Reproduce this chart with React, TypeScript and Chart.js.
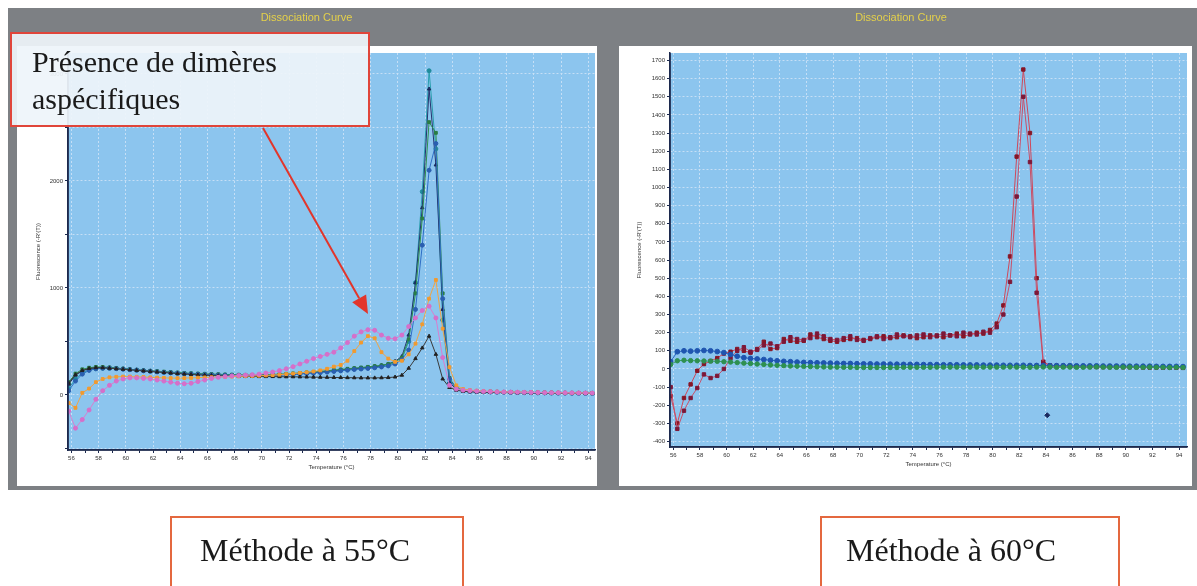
import React, { useEffect, useRef } from "react";
import { Chart, registerables } from "chart.js";

Chart.register(...registerables);

// ---------- DATA ----------
const temps = [
  55.8, 56.3, 56.8, 57.3, 57.8, 58.3, 58.8, 59.3, 59.8, 60.3,
  60.8, 61.3, 61.8, 62.3, 62.8, 63.3, 63.8, 64.3, 64.8, 65.3,
  65.8, 66.3, 66.8, 67.3, 67.8, 68.3, 68.8, 69.3, 69.8, 70.3,
  70.8, 71.3, 71.8, 72.3, 72.8, 73.3, 73.8, 74.3, 74.8, 75.3,
  75.8, 76.3, 76.8, 77.3, 77.8, 78.3, 78.8, 79.3, 79.8, 80.3,
  80.8, 81.3, 81.8, 82.3, 82.8, 83.3, 83.8, 84.3, 84.8, 85.3,
  85.8, 86.3, 86.8, 87.3, 87.8, 88.3, 88.8, 89.3, 89.8, 90.3,
  90.8, 91.3, 91.8, 92.3, 92.8, 93.3, 93.8, 94.3,
];

// Left chart (Méthode à 55°C)
const left55Teal = [
  60, 150, 205, 235, 245, 250, 250, 248, 243, 238,
  233, 228, 222, 218, 212, 208, 204, 200, 198, 195,
  193, 190, 188, 186, 185, 184, 183, 182, 182, 183,
  185, 188, 191, 195, 199, 204, 209, 214, 220, 226,
  232, 238, 244, 250, 256, 262, 270, 282, 300, 330,
  500, 1050, 1900, 3030, 2300, 700, 110, 60, 45, 38,
  34, 31, 29, 27, 26, 25, 24, 23, 22, 21,
  20, 19, 18, 18, 17, 16, 16, 15,
];
const left55Navy = [
  100, 185, 225, 245, 255, 258, 255, 250, 245, 240,
  235, 230, 225, 220, 215, 210, 206, 202, 198, 195,
  192, 190, 188, 186, 184, 183, 182, 182, 183, 184,
  186, 189, 192, 196, 200, 205, 210, 216, 222, 228,
  234, 240, 246, 252, 258, 265, 275, 290, 315, 360,
  560, 1050, 1750, 2860, 2150, 800, 120, 55, 40, 32,
  30, 28, 26, 25, 24, 23, 22, 22, 21, 20,
  20, 19, 19, 18, 18, 17, 17, 16,
];
const left55Green = [
  120, 200, 240, 255, 262, 262, 258, 252, 246, 240,
  235, 230, 226, 222, 218, 214, 210, 206, 203, 200,
  198, 196, 194, 192, 190, 189, 188, 188, 189, 190,
  192, 195, 198, 202, 206, 211, 216, 221, 227, 233,
  239, 245, 251, 257, 263, 270, 278, 290, 310, 350,
  520, 950, 1650, 2550, 2450, 950, 160, 65, 48, 40,
  36, 33, 31, 29, 28, 27, 26, 25, 24, 23,
  22, 21, 20, 20, 19, 18, 18, 17,
];
const left55Blue = [
  40, 130, 195, 230, 245, 250, 250, 246, 241, 236,
  231, 226, 221, 216, 211, 207, 203, 199, 196, 193,
  190, 188, 186, 184, 183, 182, 181, 181, 182, 183,
  184, 186, 189, 192, 196, 200, 204, 209, 214, 220,
  226, 232, 238, 243, 248, 254, 262, 272, 290, 330,
  420, 800, 1400, 2100, 2350, 900, 150, 55, 42, 35,
  32, 30, 28, 26, 25, 24, 23, 22, 21, 20,
  20, 19, 18, 18, 17, 17, 16, 16,
];
const left55Black = [
  110, 190, 230, 248, 255, 255, 250, 245, 240, 235,
  230, 225, 220, 215, 210, 205, 200, 196, 192, 188,
  185, 182, 180, 178, 176, 175, 174, 173, 172, 172,
  172, 171, 170, 170, 169, 168, 167, 166, 165, 164,
  163, 162, 161, 160, 160, 160, 161, 163, 168, 185,
  250, 340, 440, 550, 380, 150, 70, 45, 35, 30,
  28, 26, 25, 24, 23, 22, 21, 21, 20, 20,
  19, 19, 18, 18, 17, 17, 16, 16,
];
const left55Pink = [
  -150, -310, -230, -140, -40, 40, 90, 130, 150, 160,
  160, 155, 150, 140, 130, 120, 110, 105, 110, 125,
  140, 155, 165, 172, 178, 182, 186, 190, 195, 205,
  215, 228, 245, 265, 290, 315, 340, 360, 380, 400,
  440, 490, 550, 590, 610, 605, 560, 530, 525, 560,
  640, 720, 790, 830, 720, 350, 90, 55, 45, 40,
  36, 33, 31, 29, 28, 27, 26, 25, 24, 23,
  22, 22, 21, 20, 20, 19, 19, 18,
];
const left55Orange = [
  -75, -120, 20, 60, 120, 150, 165, 170, 172, 172,
  170, 168, 165, 162, 160, 158, 157, 158, 160, 162,
  164, 166, 168, 170, 172, 174, 176, 178, 180, 183,
  186, 190, 195, 200, 206, 212, 220, 230, 245, 265,
  280, 320, 410, 490, 550, 530, 400, 340, 310, 320,
  380, 480, 660, 900, 1075, 620, 260, 90, 55, 45,
  40, 36, 33, 31, 29, 28, 27, 26, 25, 24,
  23, 22, 22, 21, 20, 20, 19, 19,
];

// Right chart (Méthode à 60°C)
const right60Red1 = [
  -150, -300, -160, -85, -10, 27, 44, 60, 85, 95,
  110, 100, 90, 110, 150, 110, 115, 165, 155, 150,
  155, 190, 175, 165, 155, 150, 160, 165, 170, 160,
  165, 175, 180, 170, 175, 185, 180, 170, 175, 185,
  180, 175, 185, 195, 180, 190, 200, 195, 215, 250,
  350, 620, 1170, 1650, 1300, 500, 40, 20, 18, 17,
  16, 15, 15, 14, 14, 13, 13, 12, 12, 12,
  11, 11, 10, 10, 10, 9, 9, 9,
];
const right60Red2 = [
  -100, -330, -230, -160, -105, -30, -50, -38, 0, 60,
  100, 120, 95, 105, 130, 140, 125, 150, 175, 165,
  160, 170, 195, 180, 165, 160, 170, 180, 160, 155,
  170, 180, 165, 175, 190, 180, 175, 185, 190, 175,
  185, 195, 185, 180, 200, 195, 190, 205, 200, 230,
  300, 480, 950, 1500, 1140, 420, 30, 15, 14, 13,
  13, 12, 12, 11, 11, 10, 10, 10, 9, 9,
  9, 8, 8, 8, 7, 7, 7, 6,
];
const right60Blue = [
  40, 95, 100, 98, 100, 102, 100, 96, 90, 80,
  70, 62, 58, 55, 52, 48, 45, 42, 40, 38,
  36, 35, 34, 33, 32, 31, 30, 30, 29, 28,
  28, 27, 27, 26, 26, 25, 25, 25, 24, 24,
  24, 23, 23, 23, 22, 22, 22, 21, 21, 21,
  20, 20, 20, 20, 19, 19, 19, 18, 18, 18,
  18, 17, 17, 17, 17, 16, 16, 16, 16, 15,
  15, 15, 15, 14, 14, 14, 14, 13,
];
const right60Green = [
  25, 45, 48, 46, 45, 44, 43, 42, 40, 38,
  35, 32, 30, 27, 25, 22, 20, 18, 16, 15,
  14, 13, 12, 11, 10, 10, 9, 9, 8, 8,
  8, 8, 8, 8, 8, 9, 9, 9, 9, 9,
  10, 10, 10, 10, 10, 10, 10, 10, 10, 10,
  10, 11, 10, 10, 9, 10, 11, 10, 9, 10,
  10, 9, 9, 10, 11, 10, 9, 9, 10, 10,
  9, 9, 10, 9, 9, 8, 9, 8,
];
const strayTemp = [84.1];
const strayValue = [-255];

const leftYTicks = [-500, 0, 500, 1000, 1500, 2000, 2500, 3000];
const leftYLabels = [0, 1000, 2000, 3000];
const rightYTicks = [
  -400, -300, -200, -100, 0, 100, 200, 300, 400, 500, 600, 700, 800, 900, 1000,
  1100, 1200, 1300, 1400, 1500, 1600, 1700,
];
const chartTitle = "Dissociation Curve";
const yTitle = "Fluorescence (-R'(T))";
const xTitle = "Temperature (°C)";

// ---------- HELPERS ----------
const toXY = (xs: number[], ys: number[]) => xs.map((x, i) => ({ x, y: ys[i] }));

const GRID = "rgba(200,224,245,0.95)";
const SANS = '"Liberation Sans", Arial, sans-serif';

function panelPlugin(inner: { x: number; y: number; w: number; h: number }) {
  return {
    id: "panelBg",
    beforeDraw(chart: any) {
      const { ctx, width, height, chartArea } = chart;
      ctx.save();
      ctx.fillStyle = "#7d8084";
      ctx.fillRect(0, 0, width, height);
      ctx.fillStyle = "#ffffff";
      ctx.fillRect(inner.x, inner.y, inner.w, inner.h);
      ctx.fillStyle = "#8cc5ee";
      ctx.fillRect(
        chartArea.left,
        chartArea.top,
        chartArea.right - chartArea.left,
        chartArea.bottom - chartArea.top
      );
      ctx.font = "11px " + SANS;
      ctx.fillStyle = "#e4d04a";
      ctx.textAlign = "center";
      ctx.textBaseline = "middle";
      ctx.fillText(chartTitle, width / 2, 10);
      ctx.restore();
    },
  };
}

function ds(label: string, values: number[], line: string, point: string, style: string, r = 2) {
  return {
    label,
    data: toXY(temps, values),
    borderColor: line,
    backgroundColor: point,
    pointBackgroundColor: point,
    pointBorderColor: point,
    pointStyle: style,
    pointRadius: r,
    borderWidth: 1,
    tension: 0,
  };
}

function baseOptions(opts: {
  padLeft: number;
  padRight: number;
  padTop: number;
  padBottom: number;
  yWidth: number;
  xHeight: number;
  xMin: number;
  xMax: number;
  yMin: number;
  yMax: number;
  yTicks: number[];
  yLabel: (v: number) => string;
}) {
  return {
    responsive: false,
    animation: false,
    devicePixelRatio: 1,
    layout: {
      padding: { left: opts.padLeft, right: opts.padRight, top: opts.padTop, bottom: opts.padBottom },
    },
    plugins: { legend: { display: false }, tooltip: { enabled: false }, title: { display: false } },
    scales: {
      x: {
        type: "linear",
        min: opts.xMin,
        max: opts.xMax,
        afterFit: (s: any) => {
          s.height = opts.xHeight;
        },
        border: { color: "#1c2a4e", width: 1.5, dash: [2, 2] },
        grid: {
          color: (c: any) => (c.tick && Math.round(c.tick.value) % 2 === 0 ? GRID : "rgba(0,0,0,0)"),
          tickColor: "#1c2a4e",
          tickLength: 3,
          lineWidth: 1,
        },
        ticks: {
          stepSize: 1,
          autoSkip: false,
          maxRotation: 0,
          includeBounds: false,
          padding: 2,
          color: "#333",
          font: { size: 6, family: SANS },
          callback: (v: any) => (Math.round(Number(v)) % 2 === 0 ? String(Math.round(Number(v))) : ""),
        },
        title: {
          display: true,
          text: xTitle,
          color: "#333",
          font: { size: 6, family: SANS },
          padding: { top: 0, bottom: 0 },
        },
      },
      y: {
        type: "linear",
        min: opts.yMin,
        max: opts.yMax,
        afterBuildTicks: (s: any) => {
          s.ticks = opts.yTicks.map((value) => ({ value }));
        },
        afterFit: (s: any) => {
          s.width = opts.yWidth;
        },
        border: { color: "#1c2a4e", width: 1.5, dash: [2, 2] },
        grid: { color: GRID, tickColor: "#1c2a4e", tickLength: 3, lineWidth: 1 },
        ticks: {
          autoSkip: false,
          padding: 2,
          color: "#333",
          font: { size: 6, family: SANS },
          callback: (v: any) => opts.yLabel(Math.round(Number(v))),
        },
        title: {
          display: true,
          text: yTitle,
          color: "#333",
          font: { size: 6, family: SANS },
          padding: { top: 2, bottom: 2 },
        },
      },
    },
  };
}

// draws the solid axis lines (grid lines are dotted)
const axisLinePlugin = {
  id: "axisLines",
  afterDraw(chart: any) {
    const { ctx, chartArea } = chart;
    ctx.save();
    ctx.strokeStyle = "#1c2a4e";
    ctx.lineWidth = 1.5;
    ctx.beginPath();
    ctx.moveTo(chartArea.left, chartArea.top);
    ctx.lineTo(chartArea.left, chartArea.bottom);
    ctx.lineTo(chartArea.right, chartArea.bottom);
    ctx.stroke();
    ctx.restore();
  },
};

function LeftChart() {
  const ref = useRef<HTMLCanvasElement>(null);
  useEffect(() => {
    if (!ref.current) return;
    const chart = new Chart(ref.current, {
      type: "line",
      data: {
        datasets: [
          ds("pink", left55Pink, "#d77fd0", "#d66fca", "circle"),
          ds("orange", left55Orange, "#f0a445", "#f29a2e", "rect"),
          ds("black", left55Black, "#3a3a3a", "#222222", "triangle"),
          ds("blue", left55Blue, "#2f6fc6", "#2a5fb0", "circle"),
          ds("green", left55Green, "#2f9050", "#2a7d45", "rect"),
          ds("navy", left55Navy, "#25356f", "#1b2a5f", "triangle"),
          ds("teal", left55Teal, "#2a9fae", "#1f8c9c", "circle"),
        ] as any,
      },
      options: baseOptions({
        padLeft: 25,
        padRight: 10,
        padTop: 45,
        padBottom: 19,
        yWidth: 35,
        xHeight: 21,
        xMin: 55.75,
        xMax: 94.5,
        yMin: -514,
        yMax: 3196,
        yTicks: leftYTicks,
        yLabel: (v) => (leftYLabels.includes(v) ? String(v) : ""),
      }) as any,
      plugins: [panelPlugin({ x: 9, y: 38, w: 580, h: 440 }), axisLinePlugin],
    });
    return () => chart.destroy();
  }, []);
  return (
    <canvas
      ref={ref}
      width={597}
      height={482}
      style={{ position: "absolute", left: 8, top: 8, width: 597, height: 482 }}
    />
  );
}

function RightChart() {
  const ref = useRef<HTMLCanvasElement>(null);
  useEffect(() => {
    if (!ref.current) return;
    const chart = new Chart(ref.current, {
      type: "line",
      data: {
        datasets: [
          ds("green", right60Green, "#3aa066", "#2e9050", "circle", 2.2),
          ds("blue", right60Blue, "#2a66c4", "#1f55b0", "circle", 2.4),
          ds("red2", right60Red2, "#c9506a", "#7d1838", "rect", 2.4),
          ds("red1", right60Red1, "#d0485a", "#861626", "rect", 2.4),
          {
            label: "stray",
            data: toXY(strayTemp, strayValue),
            showLine: false,
            pointStyle: "rectRot",
            pointRadius: 2.5,
            pointBackgroundColor: "#1b2a5f",
            pointBorderColor: "#1b2a5f",
          },
        ] as any,
      },
      options: baseOptions({
        padLeft: 29,
        padRight: 10,
        padTop: 45,
        padBottom: 22,
        yWidth: 36,
        xHeight: 21,
        xMin: 55.75,
        xMax: 94.6,
        yMin: -430,
        yMax: 1741,
        yTicks: rightYTicks,
        yLabel: (v) => String(v),
      }) as any,
      plugins: [panelPlugin({ x: 14, y: 38, w: 573, h: 440 }), axisLinePlugin],
    });
    return () => chart.destroy();
  }, []);
  return (
    <canvas
      ref={ref}
      width={592}
      height={482}
      style={{ position: "absolute", left: 605, top: 8, width: 592, height: 482 }}
    />
  );
}

const SERIF = '"Liberation Serif", "Times New Roman", serif';

export default function App() {
  // arrow geometry
  const x1 = 263, y1 = 128, tx = 368, ty = 314;
  const dx = tx - x1, dy = ty - y1;
  const len = Math.sqrt(dx * dx + dy * dy);
  const ux = dx / len, uy = dy / len;
  const bx = tx - ux * 18, by = ty - uy * 18;
  const nx = -uy, ny = ux;
  const head = `${tx},${ty} ${bx + nx * 8},${by + ny * 8} ${bx - nx * 8},${by - ny * 8}`;

  return (
    <div
      style={{
        position: "absolute",
        left: 0,
        top: 0,
        width: 1197,
        height: 586,
        overflow: "hidden",
        background: "#ffffff",
      }}
    >
      <LeftChart />
      <RightChart />
      <div
        style={{
          position: "absolute",
          left: 10,
          top: 32,
          width: 360,
          height: 95,
          border: "2px solid #e0453a",
          background: "rgba(238,244,250,0.93)",
          fontFamily: SERIF,
          fontSize: 30,
          lineHeight: "37px",
          color: "#1a1a1a",
          paddingLeft: 20,
          paddingTop: 9,
          boxSizing: "border-box",
          whiteSpace: "nowrap",
        }}
      >
        Présence de dimères
        <br />
        aspécifiques
      </div>
      <svg
        width={1197}
        height={586}
        style={{ position: "absolute", left: 0, top: 0, pointerEvents: "none" }}
      >
        <line x1={x1} y1={y1} x2={bx} y2={by} stroke="#e2352b" strokeWidth={2} />
        <polygon points={head} fill="#e2352b" />
      </svg>
      <div
        style={{
          position: "absolute",
          left: 170,
          top: 516,
          width: 294,
          height: 100,
          border: "2px solid #e4683f",
          boxSizing: "border-box",
          fontFamily: SERIF,
          fontSize: 32,
          color: "#1a1a1a",
          paddingLeft: 28,
          paddingTop: 14,
          whiteSpace: "nowrap",
        }}
      >
        Méthode à 55°C
      </div>
      <div
        style={{
          position: "absolute",
          left: 820,
          top: 516,
          width: 300,
          height: 100,
          border: "2px solid #e4683f",
          boxSizing: "border-box",
          fontFamily: SERIF,
          fontSize: 32,
          color: "#1a1a1a",
          paddingLeft: 24,
          paddingTop: 14,
          whiteSpace: "nowrap",
        }}
      >
        Méthode à 60°C
      </div>
    </div>
  );
}
